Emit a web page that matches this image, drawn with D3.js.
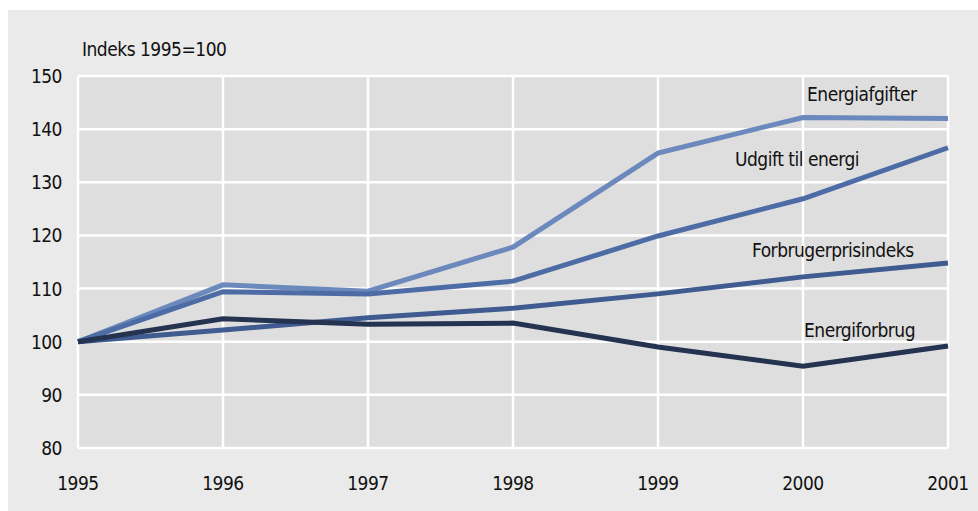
<!DOCTYPE html>
<html>
<head>
<meta charset="utf-8">
<script src="https://cdn.jsdelivr.net/npm/d3@7"></script>
<style>
  body { margin: 0; background: #ffffff; }
  svg text { font-family: "Liberation Sans Narrow", "DejaVu Sans Condensed", sans-serif; fill: #111; letter-spacing: -0.5px; }
</style>
</head>
<body>
<svg id="chart" width="978" height="511"></svg>
<script>
var years = [1995, 1996, 1997, 1998, 1999, 2000, 2001];
var yTicks = [80, 90, 100, 110, 120, 130, 140, 150];

var energiafgifter      = [100, 110.7, 109.5, 117.8, 135.5, 142.2, 142.0];
var udgiftTilEnergi     = [100, 109.4, 109.0, 111.4, 119.9, 126.9, 136.5];
var forbrugerprisindeks = [100, 102.2, 104.5, 106.3, 109.0, 112.2, 114.8];
var energiforbrug       = [100, 104.3, 103.3, 103.5,  99.0,  95.4,  99.2];

var seriesNames = ["Energiafgifter", "Udgift til energi", "Forbrugerprisindeks", "Energiforbrug"];
var seriesData = [energiafgifter, udgiftTilEnergi, forbrugerprisindeks, energiforbrug];
var colors = ["#6b89bc", "#4d6ca6", "#3f5b8f", "#24334f"];
// label positions (text anchor start, baseline)
var labelPos = [[807, 101], [735, 166], [752, 257], [804, 337]];

var svg = d3.select("#chart");
var margin = { left: 78, right: 30, top: 76, bottom: 63 };
var W = 978, H = 511;

// outer panel
svg.append("rect")
   .attr("x", 8).attr("y", 10)
   .attr("width", W - 8).attr("height", H - 10)
   .style("fill", "#eaeaea");

var x = d3.scaleLinear().domain([1995, 2001]).range([margin.left, W - margin.right]);
var y = d3.scaleLinear().domain([80, 150]).range([H - margin.bottom, margin.top]);

// plot area
svg.append("rect")
   .attr("x", x(1995)).attr("y", y(150))
   .attr("width", x(2001) - x(1995)).attr("height", y(80) - y(150))
   .style("fill", "#dedede");

// grid
svg.selectAll(".hgrid")
   .data(yTicks)
   .enter()
   .append("line")
   .attr("class", "hgrid")
   .attr("x1", x(1995)).attr("x2", x(2001))
   .attr("y1", function(d) { return y(d); })
   .attr("y2", function(d) { return y(d); })
   .style("stroke", "#ffffff").style("stroke-width", 2.5);

svg.selectAll(".vgrid")
   .data(years)
   .enter()
   .append("line")
   .attr("class", "vgrid")
   .attr("x1", function(d) { return x(d); })
   .attr("x2", function(d) { return x(d); })
   .attr("y1", y(150)).attr("y2", y(80))
   .style("stroke", "#ffffff").style("stroke-width", 2.5);

// axis labels
svg.selectAll(".ylab")
   .data(yTicks)
   .enter()
   .append("text")
   .attr("class", "ylab")
   .attr("x", 62)
   .attr("y", function(d) { return y(d) + 7; })
   .attr("text-anchor", "end")
   .style("font-size", "19px")
   .text(function(d) { return d; });

svg.selectAll(".xlab")
   .data(years)
   .enter()
   .append("text")
   .attr("class", "xlab")
   .attr("x", function(d) { return x(d); })
   .attr("y", 490)
   .attr("text-anchor", "middle")
   .style("font-size", "19px")
   .text(function(d) { return d; });

svg.append("text")
   .attr("x", 82).attr("y", 56)
   .style("font-size", "19px")
   .text("Indeks 1995=100");

// lines
var line = d3.line()
   .x(function(d, i) { return x(years[i]); })
   .y(function(d) { return y(d); });

svg.selectAll(".series")
   .data(seriesData)
   .enter()
   .append("path")
   .attr("class", "series")
   .attr("d", function(d) { return line(d); })
   .style("fill", "none")
   .style("stroke", function(d, i) { return colors[i]; })
   .style("stroke-width", 5)
   .style("stroke-linejoin", "miter");

// series labels
svg.selectAll(".slab")
   .data(seriesNames)
   .enter()
   .append("text")
   .attr("class", "slab")
   .attr("x", function(d, i) { return labelPos[i][0]; })
   .attr("y", function(d, i) { return labelPos[i][1]; })
   .style("font-size", "19px")
   .text(function(d) { return d; });
</script>
</body>
</html>
